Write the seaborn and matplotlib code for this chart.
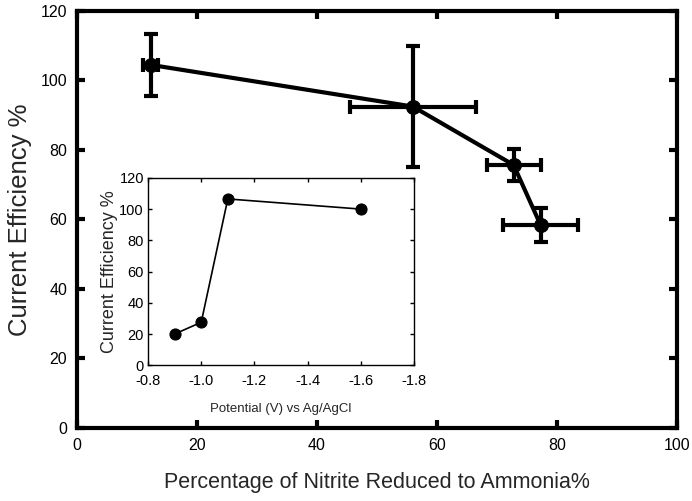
import matplotlib
matplotlib.use("Agg")
import matplotlib.pyplot as plt
import seaborn as sns
import pandas as pd

# main data: % nitrite reduced to ammonia vs current efficiency
pct_ammonia = [12.3, 56.0, 72.8, 77.3]
efficiency = [104.5, 92.5, 75.7, 58.4]
x_err = [1.3, 10.5, 4.5, 6.3]
y_err = [9.0, 17.5, 4.6, 4.8]

# inset data: potential vs current efficiency
potential = [-0.9, -1.0, -1.1, -1.6]
inset_eff = [20.0, 27.5, 106.5, 100.0]

sns.set_theme(style="ticks")
plt.rcParams['font.family'] = ['Liberation Sans', 'DejaVu Sans']

fig = plt.figure(figsize=(6.92, 5.01), dpi=100)
ax = fig.add_axes([0.111, 0.146, 0.867, 0.832])

main = pd.DataFrame({"pct": pct_ammonia, "eff": efficiency})
sns.lineplot(data=main, x="pct", y="eff", ax=ax, color="black", lw=3,
             marker="o", markersize=10, markeredgecolor="black", sort=False)
ax.errorbar(pct_ammonia, efficiency, xerr=x_err, yerr=y_err, fmt="none",
            ecolor="black", elinewidth=3, capsize=5, capthick=3)

ax.set_xlim(0, 100)
ax.set_ylim(0, 120)
ax.set_xticks(range(0, 101, 20))
ax.set_yticks(range(0, 121, 20))
ax.tick_params(direction="in", length=6, width=3, top=True, right=True,
               labelsize=11.5, pad=7, colors="black")
for s in ax.spines.values():
    s.set_linewidth(3)
    s.set_color("black")
ax.set_xlabel("Percentage of Nitrite Reduced to Ammonia%", fontsize=15.5, labelpad=14)
ax.set_ylabel("Current Efficiency %", fontsize=18.5, labelpad=6)

# inset
ins = fig.add_axes([0.214, 0.271, 0.384, 0.374])
inset = pd.DataFrame({"pot": potential, "eff": inset_eff})
sns.lineplot(data=inset, x="pot", y="eff", ax=ins, color="black", lw=1.2,
             marker="o", markersize=8, markeredgecolor="black", sort=False)
ins.set_xlim(-0.8, -1.8)
ins.set_ylim(0, 120)
ins.set_xticks([-0.8, -1.0, -1.2, -1.4, -1.6, -1.8])
ins.set_xticklabels(["-0.8", "-1.0", "-1.2", "-1.4", "-1.6", "-1.8"])
ins.set_yticks(range(0, 121, 20))
ins.tick_params(direction="in", length=3, width=1, top=True, right=True,
                labelsize=10.5, pad=3, colors="black")
ins.tick_params(axis="x", pad=6)
for s in ins.spines.values():
    s.set_linewidth(1)
    s.set_color("black")
ins.set_xlabel("Potential (V) vs Ag/AgCl", fontsize=9.5, labelpad=11)
ins.set_ylabel("Current Efficiency %", fontsize=13, labelpad=1)

fig.savefig("out.png", dpi=100)
